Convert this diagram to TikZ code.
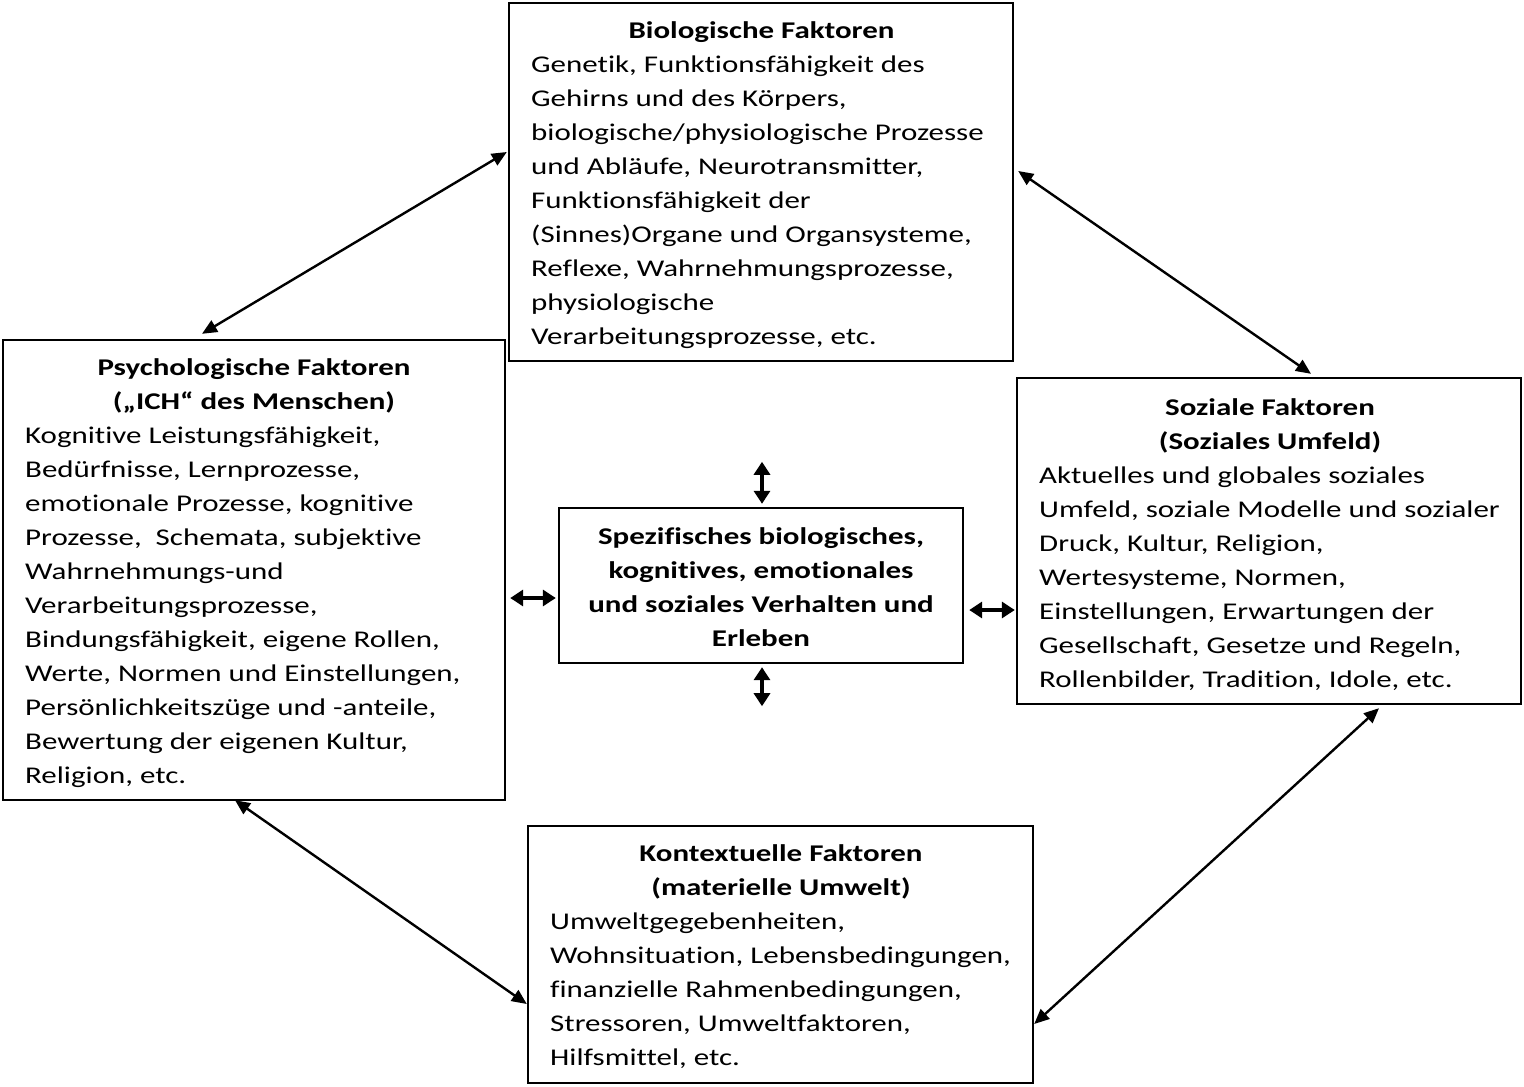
\documentclass[tikz,border=0pt]{standalone}
\usepackage{fontspec}
\setmainfont{Carlito}[FakeStretch=1.29, Ligatures=CommonOff]
\usetikzlibrary{arrows.meta,calc}
\begin{document}
\begin{tikzpicture}[x=1pt,y=-1pt]
\tikzset{
  box/.style={draw, rectangle, line width=2.4pt, inner sep=0pt},
  txt/.style={inner sep=0pt, font=\fontsize{24}{34}\selectfont},
  ttl/.style={inner sep=0pt, font=\fontsize{24}{34}\selectfont\bfseries},
  link/.style={{Triangle[length=15pt,width=13pt]}-{Triangle[length=15pt,width=13pt]}, line width=2.4pt},
  slink/.style={{Triangle[length=13pt,width=16pt]}-{Triangle[length=13pt,width=16pt]}, line width=3.4pt}
}
\fill[white] (0,0) rectangle (1524,1087);
\useasboundingbox (0,0) rectangle (1524,1087);

% boxes
\node[box, minimum width=504pt, minimum height=358pt] (bio) at (761,182) {};
\node[box, minimum width=502pt, minimum height=460pt] (psy) at (254,570) {};
\node[box, minimum width=504pt, minimum height=326pt] (soz) at (1269,541) {};
\node[box, minimum width=404pt, minimum height=155pt] (ctr) at (761,585.5) {};
\node[box, minimum width=505pt, minimum height=257pt] (kon) at (780.5,954.5) {};

% texts
\node[ttl, anchor=base] (bioT) at (761.5,38) {\begin{tabular}[t]{@{}c@{}}Biologische Faktoren\end{tabular}};
\node[txt, anchor=base west] (bioB) at (531,72) {\begin{tabular}[t]{@{}l@{}}
Genetik, Funktionsfähigkeit des\\
Gehirns und des Körpers,\\
biologische/physiologische Prozesse\\
und Abläufe, Neurotransmitter,\\
Funktionsfähigkeit der\\
(Sinnes)Organe und Organsysteme,\\
Reflexe, Wahrnehmungsprozesse,\\
physiologische\\
Verarbeitungsprozesse, etc.\end{tabular}};

\node[ttl, anchor=base] (psyT) at (254,375) {\begin{tabular}[t]{@{}c@{}}Psychologische Faktoren\\(„ICH“ des Menschen)\end{tabular}};
\node[txt, anchor=base west] (psyB) at (25,443) {\begin{tabular}[t]{@{}l@{}}
Kognitive Leistungsfähigkeit,\\
Bedürfnisse, Lernprozesse,\\
emotionale Prozesse, kognitive\\
Prozesse,~ Schemata, subjektive\\
Wahrnehmungs-und\\
Verarbeitungsprozesse,\\
Bindungsfähigkeit, eigene Rollen,\\
Werte, Normen und Einstellungen,\\
Persönlichkeitszüge und -anteile,\\
Bewertung der eigenen Kultur,\\
Religion, etc.\end{tabular}};

\node[ttl, anchor=base] (sozT) at (1270,415) {\begin{tabular}[t]{@{}c@{}}Soziale Faktoren\\(Soziales Umfeld)\end{tabular}};
\node[txt, anchor=base west] (sozB) at (1039,483) {\begin{tabular}[t]{@{}l@{}}
Aktuelles und globales soziales\\
Umfeld, soziale Modelle und sozialer\\
Druck, Kultur, Religion,\\
Wertesysteme, Normen,\\
Einstellungen, Erwartungen der\\
Gesellschaft, Gesetze und Regeln,\\
Rollenbilder, Tradition, Idole, etc.\end{tabular}};

\node[ttl, anchor=base] (ctrT) at (761,544) {\begin{tabular}[t]{@{}c@{}}
Spezifisches biologisches,\\
kognitives, emotionales\\
und soziales Verhalten und\\
Erleben\end{tabular}};

\node[ttl, anchor=base] (konT) at (781,861) {\begin{tabular}[t]{@{}c@{}}Kontextuelle Faktoren\\(materielle Umwelt)\end{tabular}};
\node[txt, anchor=base west] (konB) at (550,929) {\begin{tabular}[t]{@{}l@{}}
Umweltgegebenheiten,\\
Wohnsituation, Lebensbedingungen,\\
finanzielle Rahmenbedingungen,\\
Stressoren, Umweltfaktoren,\\
Hilfsmittel, etc.\end{tabular}};

% connectors between outer boxes
\draw[link] ($(bio.west)+(-1,-30)$) -- ($(psy.north)+(-52,-5)$);
\draw[link] ($(bio.east)+(4,-11)$) -- ($(soz.north)+(42,-3)$);
\draw[link] ($(psy.south)+(-19,-1)$) -- ($(kon.west)+(0,49.5)$);
\draw[link] ($(soz.south)+(110,3)$) -- ($(kon.east)+(0,69.5)$);

% short arrows around the centre box
\coordinate (ctop) at ($(ctr.north)+(1,-45)$);
\coordinate (cbot) at ($(ctr.south)+(1,42)$);
\draw[slink] (ctop) -- ($(ctr.north)+(1,-3)$);
\draw[slink] ($(ctr.south)+(1,3)$) -- (cbot);
\draw[slink] ($(psy.east)+(4,28)$) -- ($(ctr.west)+(-2,12.5)$);
\draw[slink] ($(ctr.east)+(5,24.5)$) -- ($(soz.west)+(-1,69)$);
\end{tikzpicture}
\end{document}
